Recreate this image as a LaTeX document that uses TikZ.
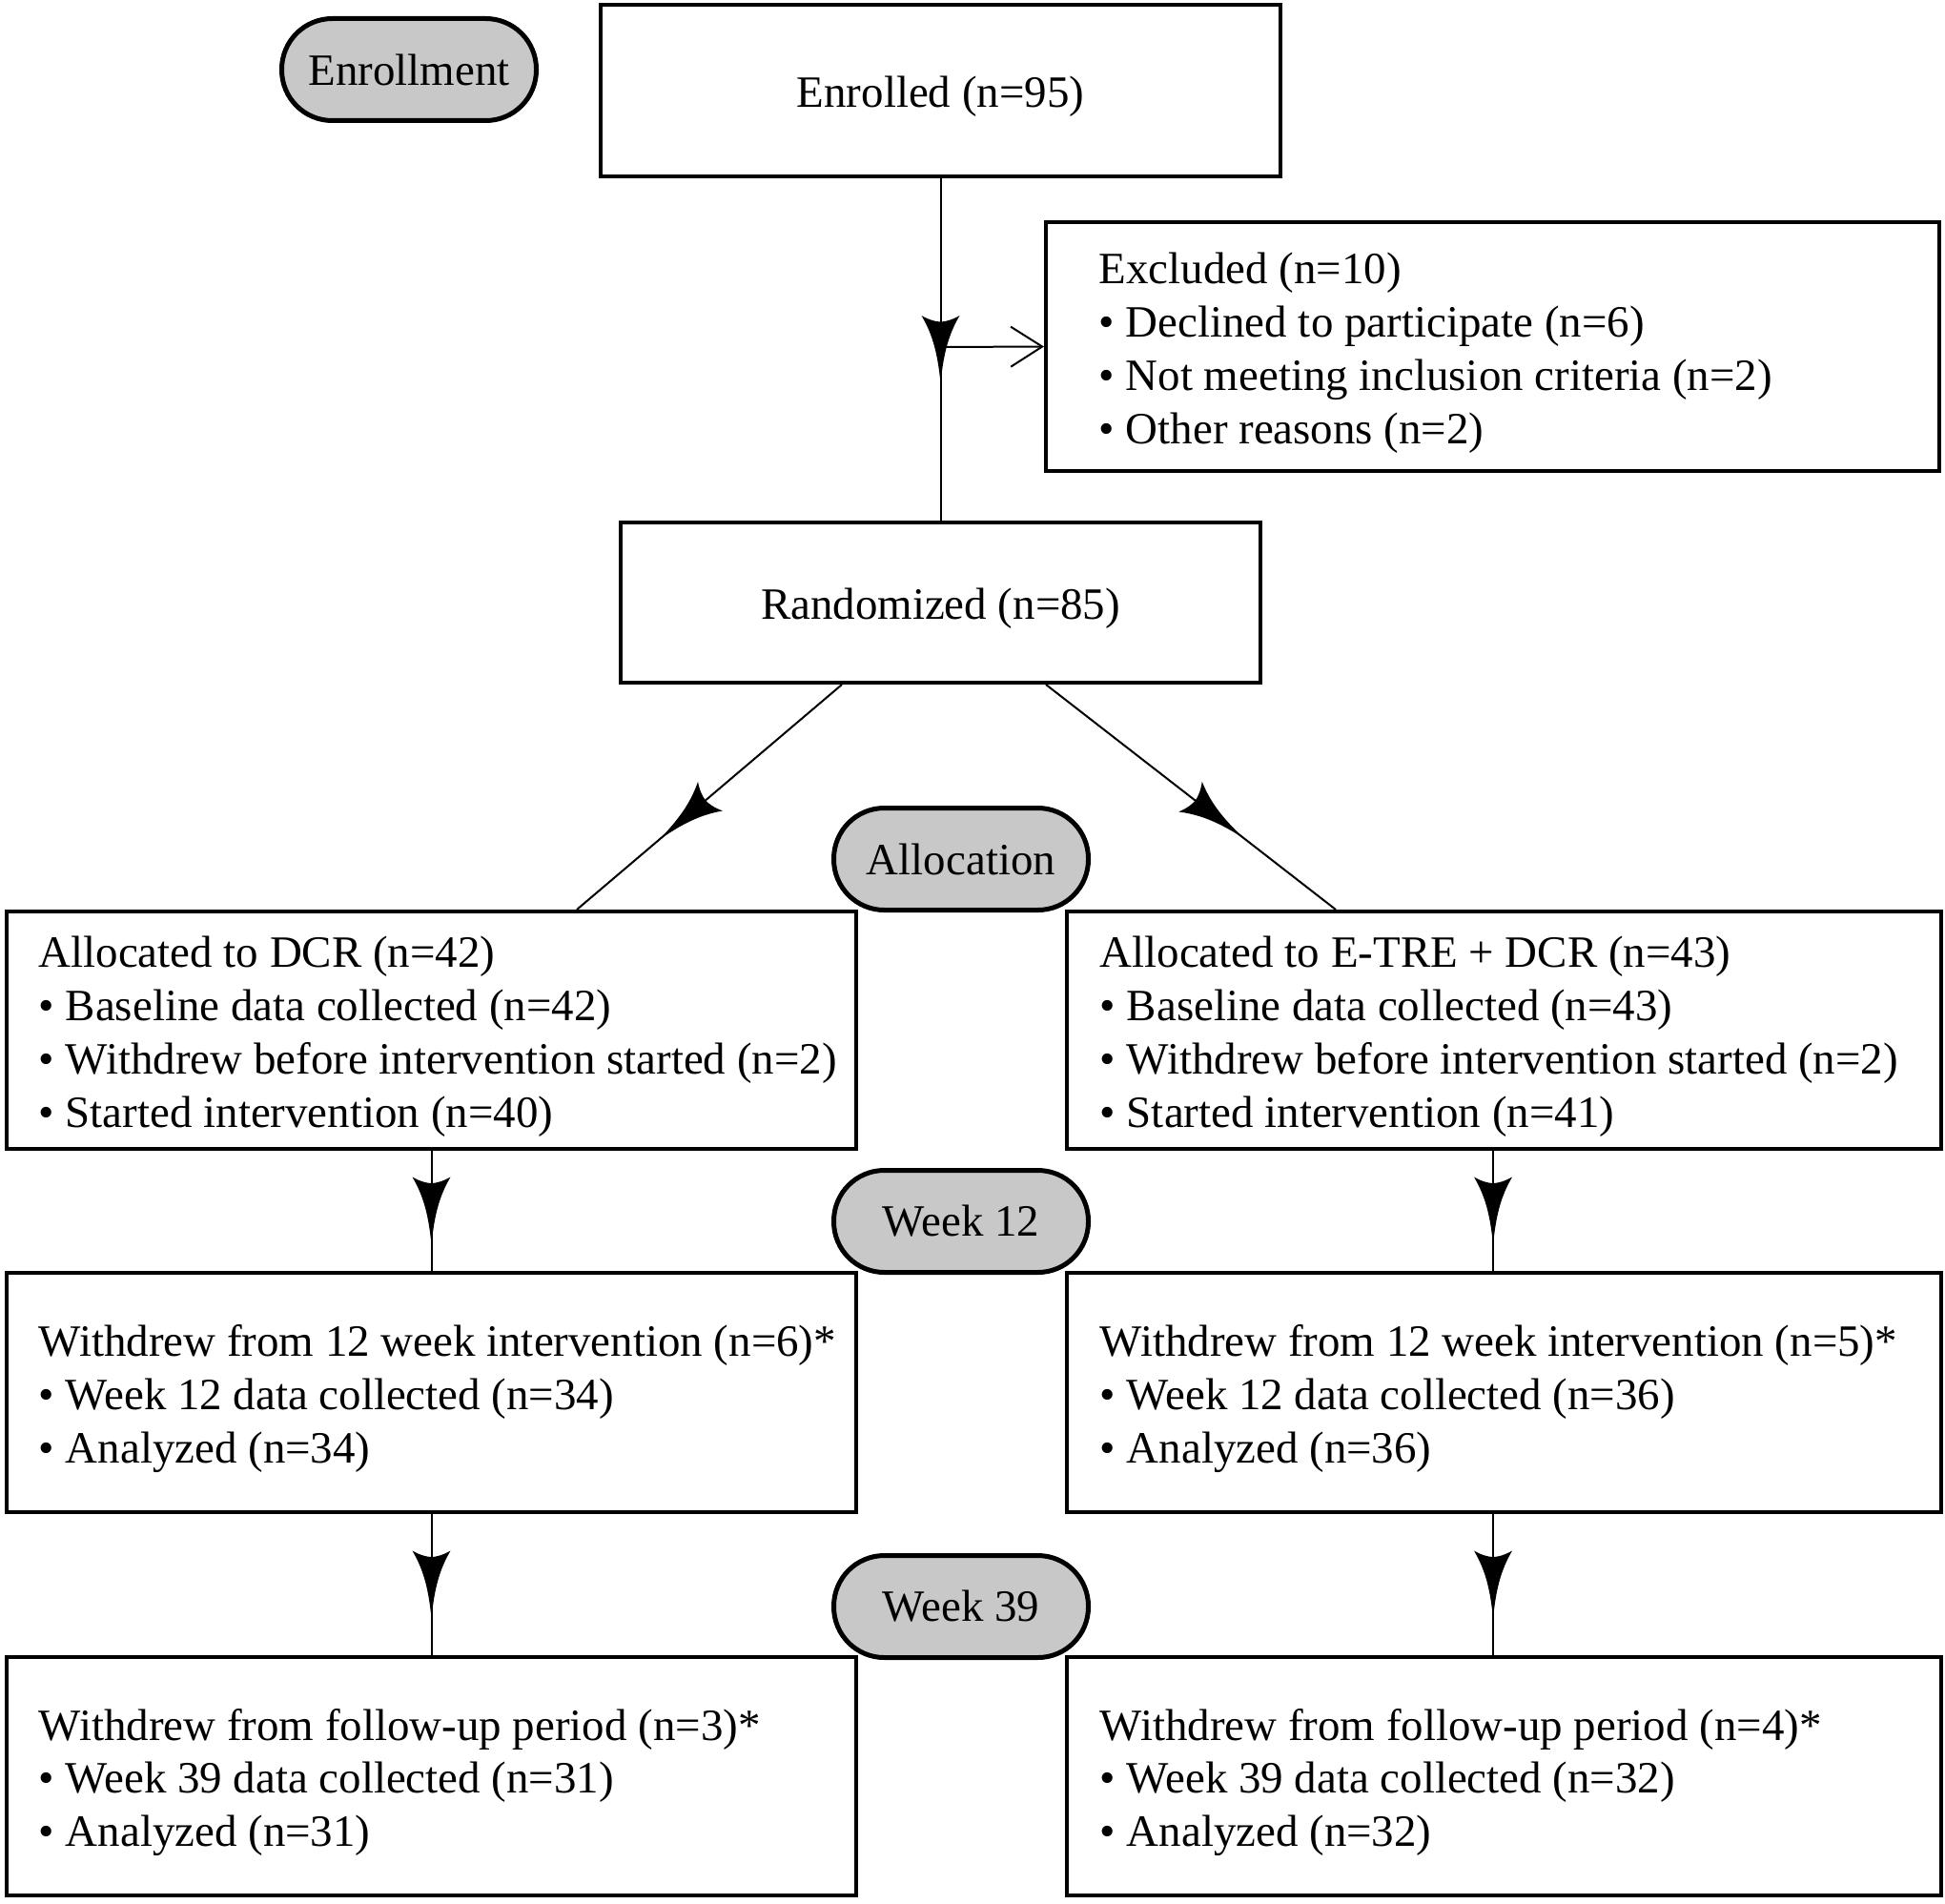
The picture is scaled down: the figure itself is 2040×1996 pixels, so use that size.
\documentclass[tikz,border=0pt]{standalone}
\usepackage{fontspec}
\setmainfont{Liberation Serif}
\usetikzlibrary{arrows.meta,decorations.markings}
\definecolor{pillgray}{RGB}{200,200,200}
\newcommand{\bul}{•\ }
\begin{document}
\begin{tikzpicture}[x=0.1mm,y=-0.1mm,
  every node/.style={font=\fontsize{13.35}{15.9}\selectfont},
  box/.style={draw,line width=0.4mm,rectangle,inner sep=0pt},
  txt/.style={align=left,inner sep=0pt,anchor=west},
  ctxt/.style={align=center,inner sep=0pt},
  pill/.style={draw,line width=0.5mm,fill=pillgray,rounded corners=5.3mm,minimum width=26.7mm,minimum height=10.7mm,inner sep=0pt},
  conn/.style={line width=0.2mm},
  midarr/.style={postaction={decorate},decoration={markings,mark=at position #1 with {\fill (35.5,0) .. controls (5,3) and (-15,8) .. (-35.5,20) .. controls (-31,12) and (-29,5) .. (-29,0) .. controls (-29,-5) and (-31,-12) .. (-35.5,-20) .. controls (-15,-8) and (5,-3) .. cycle;}}}
]
\useasboundingbox (0,0) rectangle (2040,1996);

% boxes
\node[box,minimum width=71.3mm,minimum height=18mm] (enr) at (986.5,95) {};
\node[box,minimum width=93.7mm,minimum height=26.1mm] (excl) at (1565.5,363.5) {};
\node[box,minimum width=67.1mm,minimum height=16.8mm] (rand) at (986.5,632) {};
\node[box,minimum width=89.1mm,minimum height=24.9mm] (l1) at (452.5,1080.5) {};
\node[box,minimum width=91.7mm,minimum height=24.9mm] (r1) at (1577.5,1080.5) {};
\node[box,minimum width=89.1mm,minimum height=25.1mm] (l2) at (452.5,1460.5) {};
\node[box,minimum width=91.7mm,minimum height=25.1mm] (r2) at (1577.5,1460.5) {};
\node[box,minimum width=89.1mm,minimum height=25mm] (l3) at (452.5,1863) {};
\node[box,minimum width=91.7mm,minimum height=25mm] (r3) at (1577.5,1863) {};

% box texts
\node[ctxt] (enrt) at ([yshift=-0.65mm]enr.center) {Enrolled (n=95)};
\node[ctxt] (randt) at ([yshift=-0.65mm]rand.center) {Randomized (n=85)};
\node[txt] (exclt) at ([xshift=5.7mm,yshift=-0.65mm]excl.west)
  {Excluded (n=10)\\\bul Declined to participate (n=6)\\\bul Not meeting inclusion criteria (n=2)\\\bul Other reasons (n=2)};
\node[txt] (l1t) at ([xshift=3.5mm,yshift=-0.65mm]l1.west)
  {Allocated to DCR (n=42)\\\bul Baseline data collected (n=42)\\\bul Withdrew before intervention started (n=2)\\\bul Started intervention (n=40)};
\node[txt] (r1t) at ([xshift=3.6mm,yshift=-0.65mm]r1.west)
  {Allocated to E-TRE + DCR (n=43)\\\bul Baseline data collected (n=43)\\\bul Withdrew before intervention started (n=2)\\\bul Started intervention (n=41)};
\node[txt] (l2t) at ([xshift=3.5mm,yshift=-0.65mm]l2.west)
  {Withdrew from 12 week intervention (n=6)*\\\bul Week 12 data collected (n=34)\\\bul Analyzed (n=34)};
\node[txt] (r2t) at ([xshift=3.6mm,yshift=-0.65mm]r2.west)
  {Withdrew from 12 week intervention (n=5)*\\\bul Week 12 data collected (n=36)\\\bul Analyzed (n=36)};
\node[txt] (l3t) at ([xshift=3.5mm,yshift=-0.65mm]l3.west)
  {Withdrew from follow-up period (n=3)*\\\bul Week 39 data collected (n=31)\\\bul Analyzed (n=31)};
\node[txt] (r3t) at ([xshift=3.6mm,yshift=-0.65mm]r3.west)
  {Withdrew from follow-up period (n=4)*\\\bul Week 39 data collected (n=32)\\\bul Analyzed (n=32)};

% connectors
\draw[conn,midarr=0.5] (enr) -- (rand);
\coordinate (j) at (986.5,364);
\draw[conn,-{Straight Barb[length=3.3mm,width=4.2mm]}] (j) -- (excl.west);
\draw[conn,midarr=0.595] ([xshift=-10.35mm]rand.south) -- ([xshift=15.25mm]l1.north);
\draw[conn,midarr=0.592] ([xshift=11.05mm]rand.south) -- ([xshift=-17.65mm]r1.north);
\draw[conn,midarr=0.5] (l1) -- (l2);
\draw[conn,midarr=0.5] ([xshift=-1.15mm]r1.south) -- ([xshift=-1.15mm]r2.north);
\draw[conn,midarr=0.5] (l2) -- (l3);
\draw[conn,midarr=0.5] ([xshift=-1.15mm]r2.south) -- ([xshift=-1.15mm]r3.north);

% stage pills
\node[pill] (penr) at (429,73) {Enrollment};
\node[pill] (palloc) at (1008,901) {Allocation};
\node[pill] (pw12) at (1008,1281) {Week 12};
\node[pill] (pw39) at (1008,1685) {Week 39};
\end{tikzpicture}
\end{document}
